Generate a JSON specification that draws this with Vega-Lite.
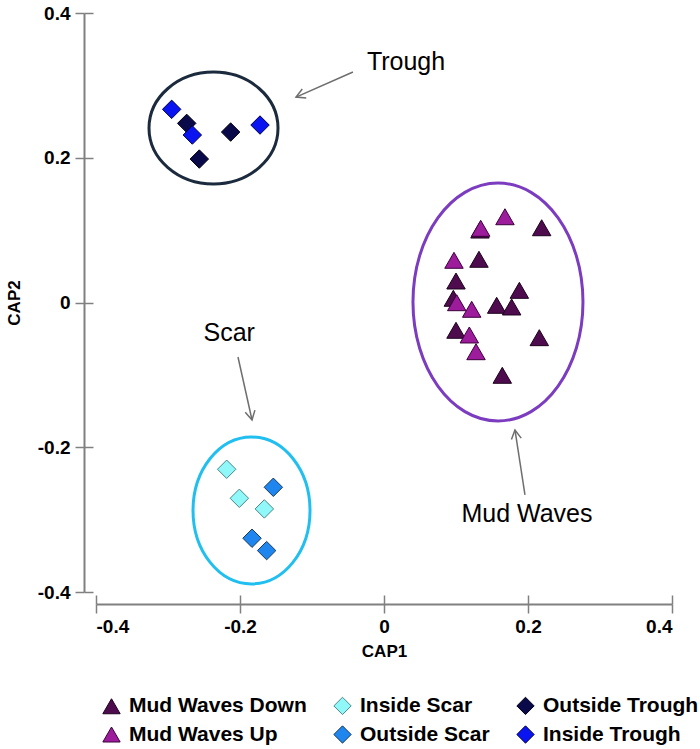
{
  "$schema": "https://vega.github.io/schema/vega-lite/v6.json",
  "width": 576,
  "height": 579,
  "autosize": {"type": "none"},
  "padding": {"left": 96, "top": 13, "right": 28, "bottom": 157},
  "background": "white",
  "config": {
    "view": {"stroke": null},
    "axis": {
      "grid": false,
      "domainColor": "#808080",
      "domainWidth": 2,
      "tickColor": "#808080",
      "tickWidth": 1.5,
      "tickSize": 9,
      "labelFont": "Liberation Sans",
      "labelFontWeight": "bold",
      "labelFontSize": 19,
      "labelColor": "#000000",
      "titleFont": "Liberation Sans",
      "titleFontWeight": "bold",
      "titleFontSize": 17,
      "titleColor": "#000000"
    }
  },
  "datasets": {
    "points": [
      {"group": "Mud Waves Down", "cap1": 0.1333, "cap2": 0.1001},
      {"group": "Mud Waves Down", "cap1": 0.219, "cap2": 0.1033},
      {"group": "Mud Waves Down", "cap1": 0.1319, "cap2": 0.0597},
      {"group": "Mud Waves Down", "cap1": 0.1, "cap2": 0.0297},
      {"group": "Mud Waves Down", "cap1": 0.188, "cap2": 0.0168},
      {"group": "Mud Waves Down", "cap1": 0.0963, "cap2": 0.0058},
      {"group": "Mud Waves Down", "cap1": 0.1565, "cap2": -0.0039},
      {"group": "Mud Waves Down", "cap1": 0.1773, "cap2": -0.0062},
      {"group": "Mud Waves Down", "cap1": 0.1, "cap2": -0.0384},
      {"group": "Mud Waves Down", "cap1": 0.2157, "cap2": -0.0486},
      {"group": "Mud Waves Down", "cap1": 0.1643, "cap2": -0.1006},
      {"group": "Mud Waves Up", "cap1": 0.168, "cap2": 0.1185},
      {"group": "Mud Waves Up", "cap1": 0.1343, "cap2": 0.1025},
      {"group": "Mud Waves Up", "cap1": 0.0972, "cap2": 0.0583},
      {"group": "Mud Waves Up", "cap1": 0.101, "cap2": -0.0003},
      {"group": "Mud Waves Up", "cap1": 0.1218, "cap2": -0.0094},
      {"group": "Mud Waves Up", "cap1": 0.1185, "cap2": -0.0449},
      {"group": "Mud Waves Up", "cap1": 0.1278, "cap2": -0.068},
      {"group": "Inside Scar", "cap1": -0.2185, "cap2": -0.2304},
      {"group": "Inside Scar", "cap1": -0.2009, "cap2": -0.2705},
      {"group": "Inside Scar", "cap1": -0.1662, "cap2": -0.2852},
      {"group": "Outside Scar", "cap1": -0.1537, "cap2": -0.2553},
      {"group": "Outside Scar", "cap1": -0.1833, "cap2": -0.3257},
      {"group": "Outside Scar", "cap1": -0.163, "cap2": -0.3428},
      {"group": "Outside Trough", "cap1": -0.274, "cap2": 0.2475},
      {"group": "Outside Trough", "cap1": -0.213, "cap2": 0.2355},
      {"group": "Outside Trough", "cap1": -0.2565, "cap2": 0.1982},
      {"group": "Inside Trough", "cap1": -0.2949, "cap2": 0.2669},
      {"group": "Inside Trough", "cap1": -0.2662, "cap2": 0.2314},
      {"group": "Inside Trough", "cap1": -0.1722, "cap2": 0.2452}
    ],
    "arrows": [
      {"name": "Trough", "cap1": -0.0431, "cap2": 0.3184, "cap1_end": -0.1222, "cap2_end": 0.2838},
      {"name": "Scar", "cap1": -0.2028, "cap2": -0.0753, "cap1_end": -0.1833, "cap2_end": -0.1623},
      {"name": "Mud Waves", "cap1": 0.1958, "cap2": -0.2659, "cap1_end": 0.1819, "cap2_end": -0.1761}
    ],
    "labels": [
      {"label": "Trough", "cap1": 0.0306, "cap2": 0.332},
      {"label": "Scar", "cap1": -0.215, "cap2": -0.0421},
      {"label": "Mud Waves", "cap1": 0.1986, "cap2": -0.2921}
    ]
  },
  "resolve": {"axis": {"x": "independent", "y": "independent"}},
  "layer": [
    {
      "encoding": {
        "x": {
          "field": "cap1",
          "type": "quantitative",
          "scale": {"domain": [-0.4, 0.4], "nice": false, "zero": false},
          "axis": {
            "title": "CAP1",
            "orient": "bottom",
            "offset": 12,
            "values": [-0.4, -0.2, 0, 0.2, 0.4],
            "labelExpr": "'' + datum.value",
            "labelPadding": 4,
            "titlePadding": 7
          }
        },
        "y": {
          "field": "cap2",
          "type": "quantitative",
          "scale": {"domain": [-0.4, 0.4], "nice": false, "zero": false},
          "axis": {
            "title": "CAP2",
            "orient": "left",
            "offset": 12,
            "values": [-0.4, -0.2, 0, 0.2, 0.4],
            "labelExpr": "'' + datum.value",
            "labelPadding": 5,
            "titlePadding": 14
          }
        }
      },
      "layer": [
        {
          "data": {"values": [{"cap1": -0.2368, "cap2": 0.241}]},
          "mark": {"type": "point", "shape": "M-1,0C-1,-0.479,-0.5523,-0.868,0,-0.868C0.5523,-0.868,1,-0.479,1,0C1,0.479,0.5523,0.868,0,0.868C-0.5523,0.868,-1,0.479,-1,0Z", "size": 16641, "filled": false, "color": "#1c2a3e", "strokeWidth": 3, "opacity": 1}
        },
        {
          "data": {"values": [{"cap1": 0.1583, "cap2": 0.0007}]},
          "mark": {"type": "point", "shape": "M-1,0C-1,-0.773,-0.5523,-1.4,0,-1.4C0.5523,-1.4,1,-0.773,1,0C1,0.773,0.5523,1.4,0,1.4C-0.5523,1.4,-1,0.773,-1,0Z", "size": 28900, "filled": false, "color": "#7c3cc0", "strokeWidth": 3, "opacity": 1}
        },
        {
          "data": {"values": [{"cap1": -0.184, "cap2": -0.2873}]},
          "mark": {"type": "point", "shape": "M-1,0C-1,-0.694,-0.5523,-1.256,0,-1.256C0.5523,-1.256,1,-0.694,1,0C1,0.694,0.5523,1.256,0,1.256C-0.5523,1.256,-1,0.694,-1,0Z", "size": 13689, "filled": false, "color": "#20bff0", "strokeWidth": 3, "opacity": 1}
        },
        {
          "data": {"name": "arrows"},
          "mark": {"type": "rule", "color": "#6e6e6e", "strokeWidth": 1.5},
          "encoding": {
            "x2": {"field": "cap1_end"},
            "y2": {"field": "cap2_end"}
          }
        },
        {
          "data": {"name": "arrows"},
          "transform": [{"filter": "datum.name == 'Trough'"}],
          "mark": {"type": "point", "shape": "M-1,-0.55L0,0L-1,0.55", "size": 324, "filled": false, "color": "#6e6e6e", "strokeWidth": 1.5, "opacity": 1, "angle": 156.3},
          "encoding": {"x": {"field": "cap1_end", "type": "quantitative"}, "y": {"field": "cap2_end", "type": "quantitative"}}
        },
        {
          "data": {"name": "arrows"},
          "transform": [{"filter": "datum.name == 'Scar'"}],
          "mark": {"type": "point", "shape": "M-1,-0.55L0,0L-1,0.55", "size": 324, "filled": false, "color": "#6e6e6e", "strokeWidth": 1.5, "opacity": 1, "angle": 77.5},
          "encoding": {"x": {"field": "cap1_end", "type": "quantitative"}, "y": {"field": "cap2_end", "type": "quantitative"}}
        },
        {
          "data": {"name": "arrows"},
          "transform": [{"filter": "datum.name == 'Mud Waves'"}],
          "mark": {"type": "point", "shape": "M-1,-0.55L0,0L-1,0.55", "size": 324, "filled": false, "color": "#6e6e6e", "strokeWidth": 1.5, "opacity": 1, "angle": 261.3},
          "encoding": {"x": {"field": "cap1_end", "type": "quantitative"}, "y": {"field": "cap2_end", "type": "quantitative"}}
        },
        {
          "data": {"name": "labels"},
          "mark": {"type": "text", "font": "Liberation Sans", "fontSize": 25, "color": "#000000", "align": "center", "baseline": "middle"},
          "encoding": {"text": {"field": "label"}}
        },
        {
          "data": {"name": "points"},
          "mark": {"type": "point", "filled": true, "size": 340, "strokeWidth": 1, "opacity": 1},
          "encoding": {
            "fill": {
              "field": "group",
              "type": "nominal",
              "scale": {
                "domain": ["Mud Waves Down", "Mud Waves Up", "Inside Scar", "Outside Scar", "Outside Trough", "Inside Trough"],
                "range": ["#4e0c4e", "#9c1c9c", "#90f8f8", "#1e86ee", "#0a0a4a", "#0a14f0"]
              },
              "legend": {
                "title": null,
                "orient": "none",
                "legendX": 5,
                "legendY": 682,
                "columns": 3,
                "padding": 0,
                "labelFont": "Liberation Sans",
                "labelFontSize": 21,
                "labelFontWeight": "bold",
                "labelColor": "#000000",
                "labelLimit": 300,
                "symbolSize": 300,
                "symbolStrokeWidth": 1,
                "columnPadding": 24,
                "rowPadding": 6,
                "labelOffset": 7
              }
            },
            "stroke": {
              "field": "group",
              "type": "nominal",
              "scale": {
                "domain": ["Mud Waves Down", "Mud Waves Up", "Inside Scar", "Outside Scar", "Outside Trough", "Inside Trough"],
                "range": ["#1c001c", "#3c003c", "#4a8888", "#1a3a5a", "#000010", "#00004a"]
              }
            },
            "shape": {
              "field": "group",
              "type": "nominal",
              "scale": {
                "domain": ["Mud Waves Down", "Mud Waves Up", "Inside Scar", "Outside Scar", "Outside Trough", "Inside Trough"],
                "range": ["triangle-up", "triangle-up", "diamond", "diamond", "diamond", "diamond"]
              }
            }
          }
        }
      ]
    },
    {
      "data": {"values": [{"cap1": 0, "cap2": 0}]},
      "mark": {"type": "point", "opacity": 0},
      "encoding": {
        "x": {
          "field": "cap1",
          "type": "quantitative",
          "axis": {"orient": "bottom", "offset": 12, "values": [-0.4, -0.2, 0, 0.2, 0.4], "tickSize": -9, "domain": false, "labels": false, "title": null}
        },
        "y": {
          "field": "cap2",
          "type": "quantitative",
          "axis": {"orient": "left", "offset": 12, "values": [-0.4, -0.2, 0, 0.2, 0.4], "tickSize": -9, "domain": false, "labels": false, "title": null}
        }
      }
    }
  ]
}
